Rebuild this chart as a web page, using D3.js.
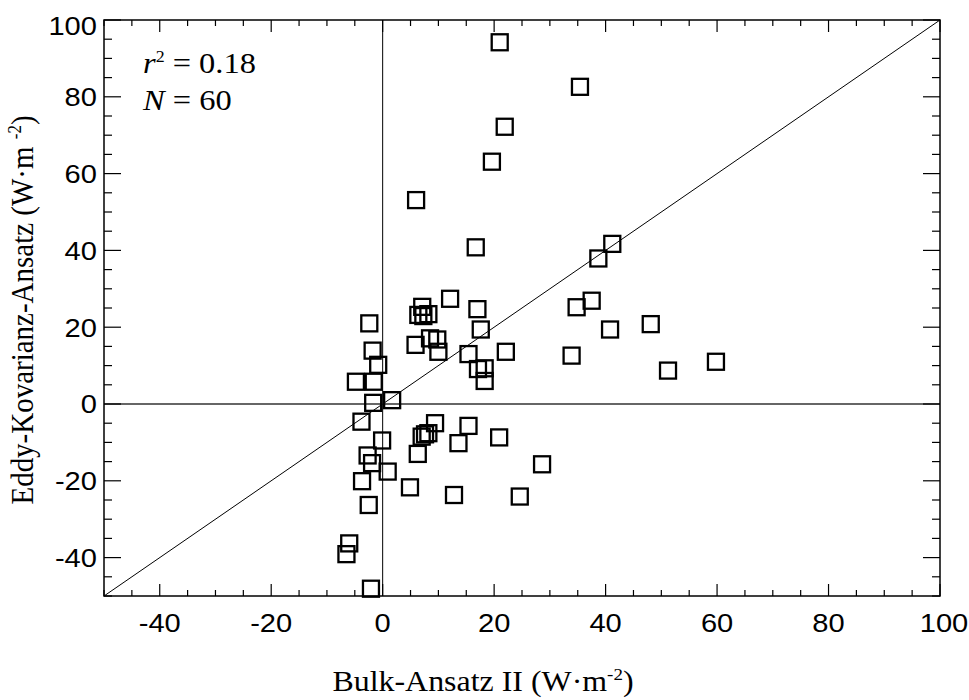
<!DOCTYPE html>
<html>
<head>
<meta charset="utf-8">
<script src="https://cdn.jsdelivr.net/npm/d3@7"></script>
<style>
  body { margin: 0; background: #fff; }
  svg { display: block; }
</style>
</head>
<body>
<svg id="chart" width="969" height="700"></svg>
<script>
// Bulk-Ansatz II (x) against Eddy-Kovarianz-Ansatz (y), W·m-2
var bulkValues = [21.0, 35.4, 21.9, 19.6, 6.0, 16.7, 41.2, 38.7, 12.1, 7.1,
                  6.4, 8.2, 7.3, 17.0, 37.5, 34.8, 17.6, 40.8, -2.4, 5.9,
                  8.5, 9.8, 10.0, -1.8, -0.8, 15.4, 22.1, 33.9, 17.1, 18.3,
                  18.3, -4.8, -1.6, -1.7, 1.7, -3.8, 9.4, 15.4, 8.2, 7.0,
                  20.9, 13.6, -0.1, 6.3, -2.7, -1.9, 0.9, 28.6, -3.7, 4.9,
                  12.8, 24.6, -2.5, -6.0, -6.5, -2.1, 48.1, 51.2, 59.8, 7.6]
var eddyValues = [94.2, 82.6, 72.2, 63.1, 53.1, 40.8, 41.7, 37.9, 27.4, 25.3,
                  23.2, 23.4, 22.9, 24.7, 26.9, 25.2, 19.4, 19.4, 21.0, 15.4,
                  17.1, 16.8, 13.6, 13.9, 10.2, 13.0, 13.6, 12.6, 9.1, 9.3,
                  6.0, 5.8, 5.8, 0.3, 1.0, -4.6, -5.0, -5.7, -7.6, -8.5,
                  -8.7, -10.2, -9.5, -13.0, -13.4, -15.4, -17.6, -15.7, -20.1, -21.7,
                  -23.7, -24.1, -26.3, -36.3, -39.1, -48.1, 20.8, 8.7, 11.0, -7.9]

var xTicks = [-40, -20, 0, 20, 40, 60, 80, 100]
var yTicks = [-40, -20, 0, 20, 40, 60, 80, 100]
var minorStep = 5
var statsLines = [['r', '2', ' = 0.18'], ['N', '', ' = 60']]

var svg = d3.select('#chart')
var plotLeft = 104, plotRight = 940, plotTop = 20, plotBottom = 596
var stretch = 1.12   // the original glyphs are a little wider than tall

var x = d3.scaleLinear().domain([-50, 100]).range([plotLeft, plotRight])
var y = d3.scaleLinear().domain([-50, 100]).range([plotBottom, plotTop])

var points = bulkValues.map(function(b, i) { return { bulk: b, eddy: eddyValues[i] } })

/* Reference lines: zero lines and the 1:1 diagonal */
svg.append('line').attr('x1', x(0)).attr('x2', x(0)).attr('y1', plotTop).attr('y2', plotBottom)
  .attr('stroke', '#000').attr('stroke-width', 1)
svg.append('line').attr('x1', plotLeft).attr('x2', plotRight).attr('y1', y(0)).attr('y2', y(0))
  .attr('stroke', '#333').attr('stroke-width', 1.3)
svg.append('line').attr('x1', x(-50)).attr('y1', y(-50)).attr('x2', x(100)).attr('y2', y(100))
  .attr('stroke', '#000').attr('stroke-width', 1)

/* Inward ticks on all four sides, major every 20 and minor every 5 */
var minor = d3.range(-50, 100.1, minorStep)
var tickG = svg.append('g').attr('stroke', '#000').attr('stroke-width', 1.2)
minor.forEach(function(v) {
  var major = xTicks.indexOf(v) >= 0
  var hLen = major ? 12 : 6
  var vLen = major ? 17 : 8
  tickG.append('line').attr('x1', x(v)).attr('x2', x(v)).attr('y1', plotBottom).attr('y2', plotBottom - hLen)
  tickG.append('line').attr('x1', x(v)).attr('x2', x(v)).attr('y1', plotTop).attr('y2', plotTop + hLen)
  tickG.append('line').attr('x1', plotLeft).attr('x2', plotLeft + vLen).attr('y1', y(v)).attr('y2', y(v))
  tickG.append('line').attr('x1', plotRight).attr('x2', plotRight - vLen).attr('y1', y(v)).attr('y2', y(v))
})

/* Frame */
svg.append('rect').attr('x', plotLeft).attr('y', plotTop)
  .attr('width', plotRight - plotLeft).attr('height', plotBottom - plotTop)
  .attr('fill', 'none').attr('stroke', '#000').attr('stroke-width', 1.5)

/* Tick labels */
var sans = 'Liberation Sans, Arial, sans-serif'
svg.append('g').selectAll('text').data(xTicks).enter().append('text')
  .attr('transform', function(d) { return 'translate(' + (x(d) + (d == 100 ? 4 : 0)) + ',632) scale(' + stretch + ',1)' })
  .attr('text-anchor', 'middle')
  .style('font-family', sans).style('font-size', '26px')
  .text(function(d) { return d })
svg.append('g').selectAll('text').data(yTicks).enter().append('text')
  .attr('transform', function(d) { return 'translate(97,' + (y(d) + 9.3 + (d == 100 ? 6 : 0)) + ') scale(' + stretch + ',1)' })
  .attr('text-anchor', 'end')
  .style('font-family', sans).style('font-size', '26px')
  .text(function(d) { return d })

/* Markers: open squares */
svg.append('g').selectAll('rect').data(points).enter().append('rect')
  .attr('x', function(p) { return x(p.bulk) - 8 })
  .attr('y', function(p) { return y(p.eddy) - 8 })
  .attr('width', 16).attr('height', 16)
  .attr('fill', 'none').attr('stroke', '#000').attr('stroke-width', 2.3)

/* Statistics */
var serif = 'Liberation Serif, Times New Roman, serif'
statsLines.forEach(function(line, i) {
  var t = svg.append('text').attr('transform', 'translate(143,' + (73 + i * 37) + ') scale(' + stretch + ',1)')
    .style('font-family', serif).style('font-size', '29px')
  t.append('tspan').style('font-style', 'italic').text(line[0])
  if (line[1]) t.append('tspan').attr('dy', -11).style('font-size', '16px').text(line[1])
  t.append('tspan').attr('dy', line[1] ? 11 : 0).text(line[2])
})

/* Axis titles */
var xt = svg.append('text').attr('transform', 'translate(483,691) scale(' + stretch + ',1)').attr('text-anchor', 'middle')
  .style('font-family', serif).style('font-size', '28.5px')
xt.append('tspan').text('Bulk-Ansatz II (W·m')
xt.append('tspan').attr('dy', -11).style('font-size', '17px').text('-2')
xt.append('tspan').attr('dy', 11).text(')')

var yt = svg.append('text').attr('transform', 'translate(33,310) rotate(-90) scale(1,' + stretch + ')').attr('text-anchor', 'middle')
  .style('font-family', serif).style('font-size', '29px')
yt.append('tspan').text('Eddy-Kovarianz-Ansatz (W·m ')
yt.append('tspan').attr('dy', -11).style('font-size', '17px').text(' -2')
yt.append('tspan').attr('dy', 11).text(')')
</script>
</body>
</html>
